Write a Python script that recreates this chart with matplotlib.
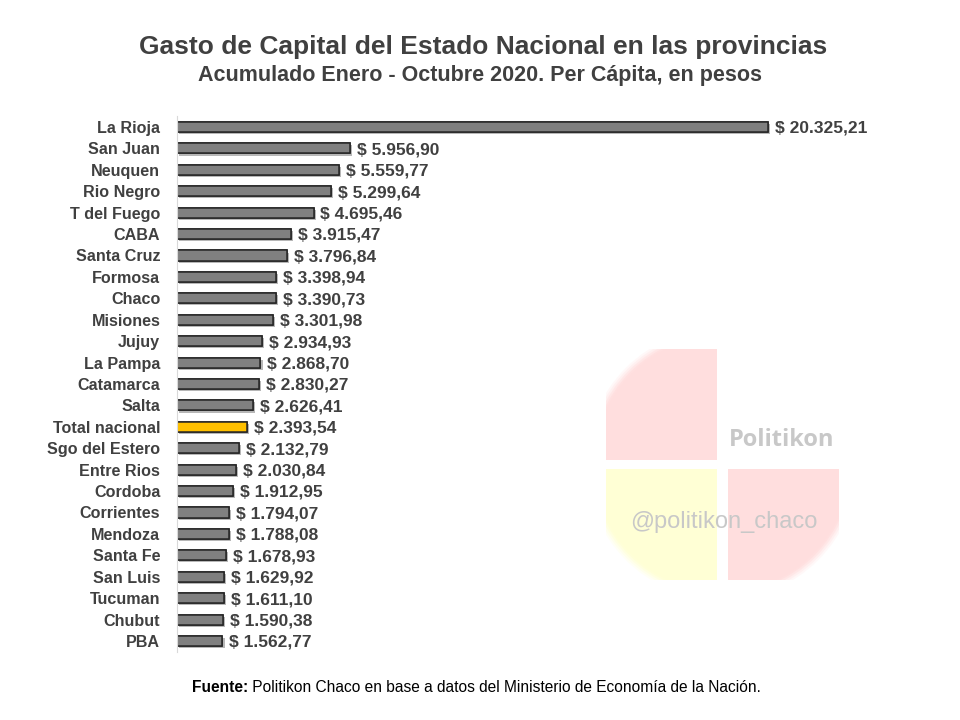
import matplotlib
matplotlib.use('Agg')
import matplotlib.pyplot as plt
import matplotlib.patheffects as pe
from matplotlib.patches import Rectangle, Circle

provincias = ['La Rioja', 'San Juan', 'Neuquen', 'Rio Negro', 'T del Fuego', 'CABA',
              'Santa Cruz', 'Formosa', 'Chaco', 'Misiones', 'Jujuy', 'La Pampa',
              'Catamarca', 'Salta', 'Total nacional', 'Sgo del Estero', 'Entre Rios',
              'Cordoba', 'Corrientes', 'Mendoza', 'Santa Fe', 'San Luis', 'Tucuman',
              'Chubut', 'PBA']
gasto = [20325.21, 5956.90, 5559.77, 5299.64, 4695.46, 3915.47,
         3796.84, 3398.94, 3390.73, 3301.98, 2934.93, 2868.70,
         2830.27, 2626.41, 2393.54, 2132.79, 2030.84,
         1912.95, 1794.07, 1788.08, 1678.93, 1629.92, 1611.10,
         1590.38, 1562.77]

def fmt_pesos(v):
    s = '{:,.2f}'.format(v)
    s = s.replace(',', 'X').replace('.', ',').replace('X', '.')
    return '$ ' + s

plt.rcParams['font.family'] = ['Liberation Sans', 'DejaVu Sans']
txt_color = '#404040'

fig = plt.figure(figsize=(9.6, 7.2), dpi=100)

# watermark logo (figure pixel coords), soft edge via stacked clips
wm = fig.add_axes([0, 0, 1, 1])
wm.set_xlim(0, 960)
wm.set_ylim(720, 0)
wm.axis('off')
cx, cy, r = 722, 464, 131
quads = [(606, 349, '#ffdede'), (606, 469, '#ffffd5'), (728, 469, '#ffdede')]
for dr, a in [(5, 0.2), (3, 0.3), (1, 0.45), (-1, 0.7), (-3, 1.0)]:
    clip = Circle((cx, cy), r + dr, transform=wm.transData)
    for qx, qy, col in quads:
        rect = Rectangle((qx, qy), 111, 111, facecolor=col, edgecolor='none', alpha=a)
        wm.add_patch(rect)
        rect.set_clip_path(clip)
wm.text(782, 440, 'Politikon', ha='center', va='center', fontsize=17,
        fontweight='bold', color='#c8c8c8', family=['Open Sans', 'DejaVu Sans'])
wm.text(724, 522, '@politikon_chaco', ha='center', va='center', fontsize=17,
        color='#c8c8c8')

# bar chart
ax = fig.add_axes([177 / 960, 0.0949, 727 / 960, 0.7436])
ax.patch.set_visible(False)
y = list(range(len(provincias)))
colores = ['#ffc000' if p == 'Total nacional' else '#808080' for p in provincias]
bars = ax.barh(y, gasto, height=0.47, color=colores, edgecolor='#262626', linewidth=1.1)
for b in bars:
    b.set_path_effects([pe.withSimplePatchShadow(offset=(1.5, -1.5), shadow_rgbFace='#888888', alpha=0.6),
                        pe.Normal()])
for yi, v in zip(y, gasto):
    ax.annotate(fmt_pesos(v), (v, yi), xytext=(5, -1), textcoords='offset points',
                va='center', ha='left', fontsize=12.5, fontweight='bold', color=txt_color)

ax.set_xlim(0, 25000)
ax.set_ylim(len(provincias) - 0.5, -0.5)
ax.set_yticks(y)
ax.set_yticklabels(provincias, fontsize=11.6, fontweight='bold', color=txt_color)
ax.tick_params(axis='y', length=0, pad=12)
ax.set_xticks([])
for s in ['top', 'right', 'bottom']:
    ax.spines[s].set_visible(False)
ax.spines['left'].set_color('#d9d9d9')

# titles
fig.text(0.503, 1 - 47 / 720, 'Gasto de Capital del Estado Nacional en las provincias',
         ha='center', va='center', fontsize=19, fontweight='bold', color=txt_color)
fig.text(0.5, 1 - 76 / 720, 'Acumulado Enero - Octubre 2020. Per Cápita, en pesos',
         ha='center', va='center', fontsize=15.5, fontweight='bold', color=txt_color)

t1 = fig.text(192 / 960, 1 - 688 / 720, 'Fuente:', ha='left', va='center',
              fontsize=11.2, fontweight='bold', color='black')
ax.annotate(' Politikon Chaco en base a datos del Ministerio de Economía de la Nación.',
            xy=(1, 0.5), xycoords=t1, va='center', ha='left', fontsize=11.2, color='black',
            annotation_clip=False)

fig.savefig('out.png', dpi=100, facecolor='white')
